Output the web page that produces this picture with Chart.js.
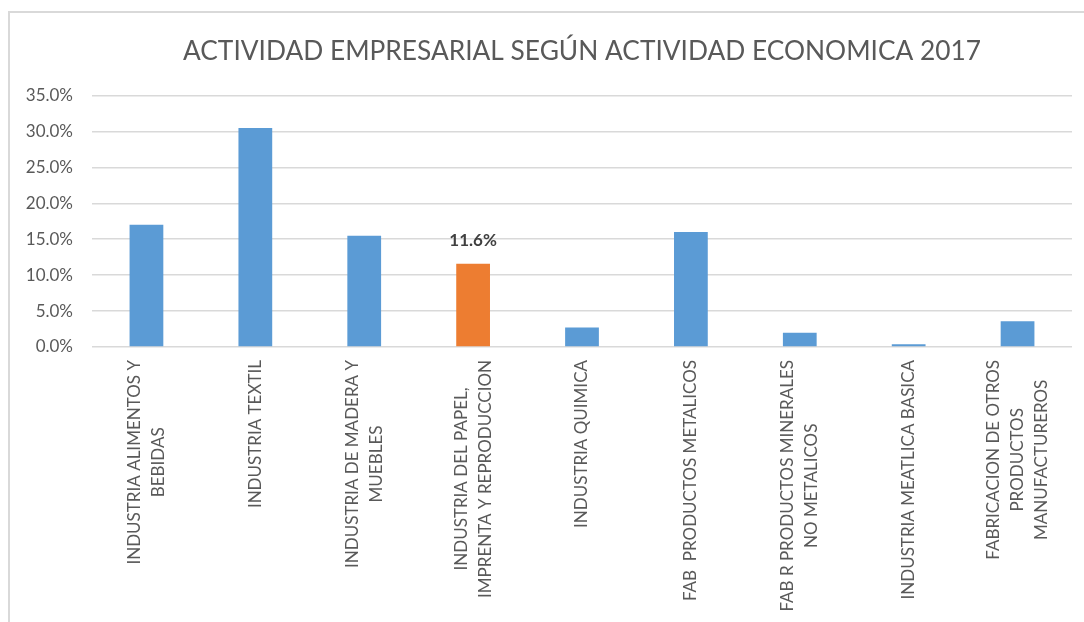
<!DOCTYPE html>
<html><head><meta charset="utf-8">
<script src="https://cdn.jsdelivr.net/npm/chart.js@4/dist/chart.umd.min.js"></script>
<style>
html,body{margin:0;padding:0;background:#fff;}
#wrap{position:relative;width:1084px;height:622px;overflow:hidden;}
#frame{position:absolute;left:8px;top:11px;right:-4px;bottom:-4px;border-left:2px solid #D9D9D9;border-top:2px solid #D9D9D9;}
canvas{position:absolute;left:0;top:0;}
</style></head><body>
<div id="wrap"><div id="frame"></div><canvas id="c" width="1084" height="622"></canvas></div>
<script>
const titleText = 'ACTIVIDAD EMPRESARIAL SEGÚN ACTIVIDAD ECONOMICA 2017';
const categories = [
  ['INDUSTRIA ALIMENTOS Y', 'BEBIDAS'],
  ['INDUSTRIA TEXTIL'],
  ['INDUSTRIA DE MADERA Y', 'MUEBLES'],
  ['INDUSTRIA DEL PAPEL,', 'IMPRENTA Y REPRODUCCION'],
  ['INDUSTRIA QUIMICA'],
  ['FAB  PRODUCTOS METALICOS'],
  ['FAB R PRODUCTOS MINERALES', 'NO METALICOS'],
  ['INDUSTRIA MEATLICA BASICA'],
  ['FABRICACION DE OTROS', 'PRODUCTOS', 'MANUFACTUREROS']
];
const values = [17.0, 30.5, 15.5, 11.6, 2.7, 16.0, 2.0, 0.4, 3.6];
const highlightIndex = 3;
const yTicks = [0, 5, 10, 15, 20, 25, 30, 35];

const BLUE = '#5B9BD5', ORANGE = '#ED7D31', GRID = '#D9D9D9', TXT = '#595959';
const FONT = 'Lato';

const barColors = values.map((v, i) => i === highlightIndex ? ORANGE : BLUE);

const dataLabelPlugin = {
  id: 'dataLabel',
  afterDatasetsDraw(chart) {
    const meta = chart.getDatasetMeta(0);
    const el = meta.data[highlightIndex];
    const ctx = chart.ctx;
    ctx.save();
    ctx.font = 'bold 17px ' + FONT;
    ctx.fillStyle = '#404040';
    ctx.textAlign = 'center';
    ctx.textBaseline = 'middle';
    ctx.fillText(values[highlightIndex].toFixed(1) + '%', el.x, el.y - 23);
    ctx.restore();
  }
};

const xLabelPlugin = {
  id: 'xLabels',
  afterDraw(chart) {
    const scale = chart.scales.x;
    const ctx = chart.ctx;
    const lh = 24;
    const top = chart.chartArea.bottom + 13;
    ctx.save();
    ctx.font = '17px ' + FONT;
    ctx.fillStyle = TXT;
    ctx.textAlign = 'center';
    ctx.textBaseline = 'middle';
    categories.forEach((lines, i) => {
      const x = scale.getPixelForTick(i);
      const maxW = Math.max(...lines.map(l => ctx.measureText(l).width));
      ctx.save();
      ctx.translate(x, top);
      ctx.rotate(-Math.PI / 2);
      lines.forEach((l, j) => {
        ctx.fillText(l, -maxW / 2, (j - (lines.length - 1) / 2) * lh);
      });
      ctx.restore();
    });
    ctx.restore();
  }
};

new Chart(document.getElementById('c'), {
  type: 'bar',
  data: {
    labels: categories,
    datasets: [{
      data: values,
      backgroundColor: barColors,
      borderWidth: 0,
      categoryPercentage: 1,
      barPercentage: 0.31
    }]
  },
  options: {
    responsive: false,
    animation: false,
    layout: { padding: { left: 0, right: 12, top: 0, bottom: 0 } },
    plugins: {
      legend: { display: false },
      tooltip: { enabled: false },
      title: {
        display: true,
        fullSize: false,
        text: titleText,
        color: TXT,
        font: { family: FONT, size: 26.3, weight: 'normal' },
        padding: { top: 36, bottom: 28 }
      }
    },
    scales: {
      x: {
        grid: { display: false, drawTicks: false },
        border: { display: false },
        ticks: { display: false },
        afterFit(s) { s.height = 275; }
      },
      y: {
        min: 0, max: 35,
        afterBuildTicks(s) { s.ticks = yTicks.map(v => ({ value: v })); },
        grid: { color: GRID, lineWidth: 1.5, drawTicks: false },
        border: { display: false },
        ticks: {
          color: TXT,
          font: { family: FONT, size: 17 },
          padding: 19,
          callback: v => Number(v).toFixed(1) + '%'
        },
        afterFit(s) { s.width = 92; }
      }
    }
  },
  plugins: [dataLabelPlugin, xLabelPlugin]
});
</script>
</body></html>
